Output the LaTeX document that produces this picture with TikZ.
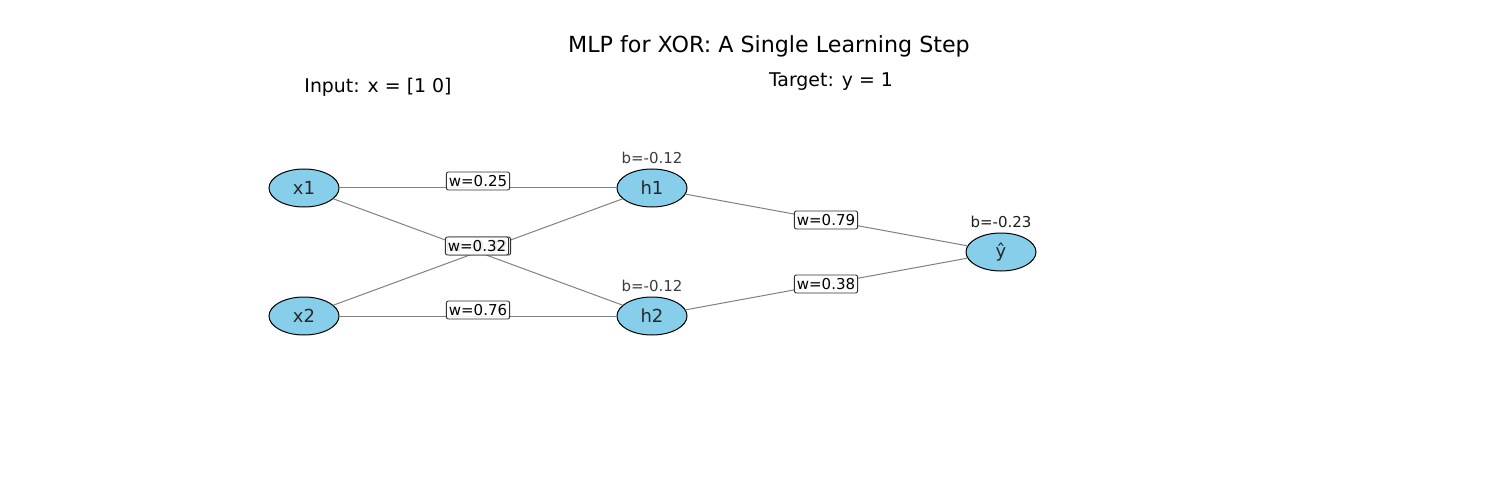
\documentclass[tikz,border=0pt]{standalone}
\usepackage{fontspec}
\setmainfont{DejaVu Sans}
\usetikzlibrary{shapes.geometric}
\begin{document}
\begin{tikzpicture}[x=1pt,y=-1pt,
  neuron/.style={ellipse,draw=black,line width=1pt,fill={rgb,255:red,135;green,206;blue,235},minimum width=70pt,minimum height=38pt,inner sep=0pt,text={rgb,255:red,40;green,40;blue,40},font=\fontsize{18}{20}\selectfont},
  conn/.style={draw={rgb,255:red,128;green,128;blue,128},line width=1pt},
  wlabel/.style={draw={rgb,255:red,50;green,50;blue,50},fill=white,fill opacity=0.9,text opacity=1,rounded corners=2pt,line width=0.9pt,inner xsep=2.5pt,inner ysep=0pt,minimum height=18pt,font=\fontsize{15}{16}\selectfont,text=black},
  blabel/.style={text={rgb,255:red,60;green,60;blue,60},font=\fontsize{15}{17}\selectfont,inner sep=0pt},
  plain/.style={inner sep=0pt,font=\fontsize{18.9}{21}\selectfont,text=black}]
\useasboundingbox (0,0) rectangle (1500,500);
\node[plain,font=\fontsize{22.2}{25}\selectfont] (title) at (769,46) {MLP for XOR: A Single Learning Step};
\node[plain] (inp) at (378,87) {Input: x = [1 0]};
\node[plain] (tgt) at (831,81.5) {Target: y = 1};

\node[neuron] (x1) at (304,188) {x1};
\node[neuron] (x2) at (304,316) {x2};
\node[neuron] (h1) at (652,188) {h1};
\node[neuron] (h2) at (652,316) {h2};
\node[neuron] (y) at (1001,252) {ŷ};

\draw[conn] (x1) -- (h1);
\draw[conn] (x1) -- (h2);
\draw[conn] (x2) -- (h1);
\draw[conn] (x2) -- (h2);
\draw[conn] (h1) -- (y);
\draw[conn] (h2) -- (y);

\node[wlabel] (l1) at (478,181) {w=0.25};
\node[wlabel] (l2) at (479,246) {w=0.32};
\node[wlabel] (l3) at (477,246) {w=0.32};
\node[wlabel] (l4) at (478,310) {w=0.76};
\node[wlabel] (l5) at (826,220) {w=0.79};
\node[wlabel] (l6) at (826,284) {w=0.38};

\node[blabel] (b1) at (652,158) {b=-0.12};
\node[blabel] (b2) at (652,286) {b=-0.12};
\node[blabel,text={rgb,255:red,30;green,30;blue,30}] (b3) at (1001,222) {b=-0.23};
\end{tikzpicture}
\end{document}
